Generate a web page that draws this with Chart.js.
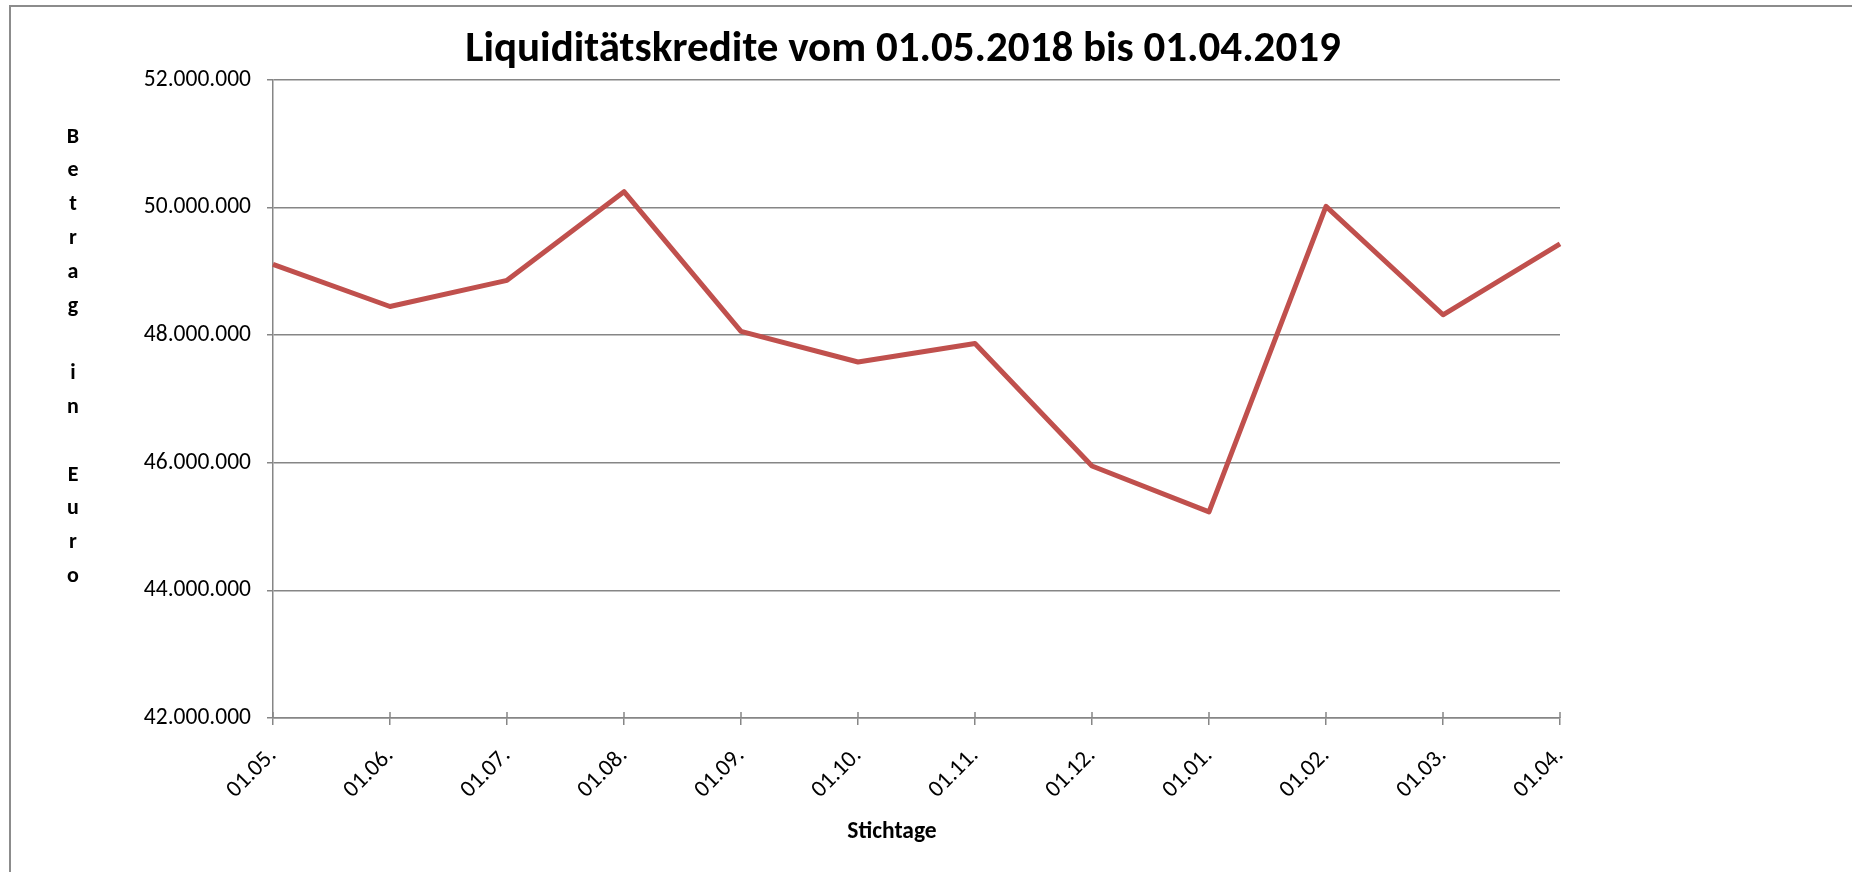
<!DOCTYPE html>
<html>
<head>
<meta charset="utf-8">
<script src="https://cdn.jsdelivr.net/npm/chart.js@4.4.1/dist/chart.umd.min.js"></script>
<style>
  html, body { margin: 0; padding: 0; background: #fff; overflow: hidden; }
  #frame { position: absolute; left: 9px; top: 5px; width: 2000px; height: 1000px; border-left: 2px solid #8c8c8c; border-top: 2px solid #8c8c8c; }
  #wrap { position: absolute; left: 0; top: 0; width: 1852px; height: 872px; }
</style>
</head>
<body>
<div id="frame"></div>
<div id="wrap"><canvas id="myChart"></canvas></div>
<script>
const chartTitle = "Liquiditätskredite vom 01.05.2018 bis 01.04.2019";
const yTitle = "Betrag in Euro";
const xTitle = "Stichtage";

const stichtage = ["01.05.", "01.06.", "01.07.", "01.08.", "01.09.", "01.10.",
  "01.11.", "01.12.", "01.01.", "01.02.", "01.03.", "01.04."];
const betraege = [49110000, 48450000, 48860000, 50250000, 48060000, 47580000,
  47870000, 45950000, 45230000, 50020000, 48320000, 49430000];
const yTicks = [42000000, 44000000, 46000000, 48000000, 50000000, 52000000];

const FONT = "Carlito, Calibri, 'Liberation Sans', sans-serif";

// thousands with dots, like the German original
function formatEuro(v) {
  return String(v).replace(/\B(?=(\d{3})+(?!\d))/g, ".");
}

// title + axis titles (y title is written as stacked letters)
const chartTexts = {
  id: "chartTexts",
  afterDraw(chart) {
    const ctx = chart.ctx;
    const area = chart.chartArea;
    ctx.save();
    ctx.fillStyle = "#000";
    ctx.textAlign = "center";
    ctx.textBaseline = "middle";

    ctx.font = "bold 43px " + FONT;
    ctx.fillText(chartTitle, 903, 50);

    ctx.font = "bold 22px " + FONT;
    yTitle.split("").forEach((ch, i) => {
      ctx.fillText(ch, 73, area.top + 57 + i * 33.8);
    });

    ctx.font = "bold 23.5px " + FONT;
    ctx.fillText(xTitle, area.left + 619, area.bottom + 114);

    // the x ticks cross the axis in the original, draw the upper half
    const x = chart.scales.x;
    ctx.strokeStyle = "#868686";
    ctx.lineWidth = 1.5;
    x.ticks.forEach((t, i) => {
      const px = x.getPixelForTick(i);
      ctx.beginPath();
      ctx.moveTo(px, area.bottom);
      ctx.lineTo(px, area.bottom - 6);
      ctx.stroke();
    });
    ctx.restore();
  },
};

function myLoadFunction() {
  const ctx = document.getElementById("myChart").getContext("2d");
  const myChartConfig = {
    type: "line",
    data: {
      labels: stichtage,
      datasets: [
        {
          label: "Liquiditätskredite",
          data: betraege,
          borderColor: "#C0504D",
          backgroundColor: "#C0504D",
          borderWidth: 5,
          borderJoinStyle: "round",
          pointRadius: 0,
          tension: 0,
        },
      ],
    },
    options: {
      responsive: true,
      maintainAspectRatio: false,
      animation: false,
      layout: { padding: { left: 0, right: 292, top: 80, bottom: 0 } },
      plugins: {
        legend: { display: false },
        tooltip: { enabled: false },
        title: { display: false },
      },
      scales: {
        x: {
          offset: false,
          afterFit: (s) => { s.height = 154; },
          border: { color: "#868686", width: 1.5 },
          grid: { drawOnChartArea: false, drawTicks: true, tickLength: 7, color: "#868686", lineWidth: 1.5 },
          ticks: {
            autoSkip: false,
            maxRotation: 45,
            minRotation: 45,
            padding: 17,
            color: "#000",
            font: { family: FONT, size: 23.5 },
          },
        },
        y: {
          min: yTicks[0],
          max: yTicks[yTicks.length - 1],
          afterFit: (s) => { s.width = 273; },
          afterBuildTicks: (s) => { s.ticks = yTicks.map((v) => ({ value: v })); },
          border: { color: "#868686", width: 1.5 },
          grid: { color: "#868686", lineWidth: 1.5, tickLength: 6 },
          ticks: {
            padding: 16,
            color: "#000",
            font: { family: FONT, size: 23.5 },
            callback: (v) => formatEuro(v),
          },
        },
      },
    },
    plugins: [chartTexts],
  };
  new Chart(ctx, myChartConfig);
}

document.addEventListener("DOMContentLoaded", myLoadFunction);
</script>
</body>
</html>
